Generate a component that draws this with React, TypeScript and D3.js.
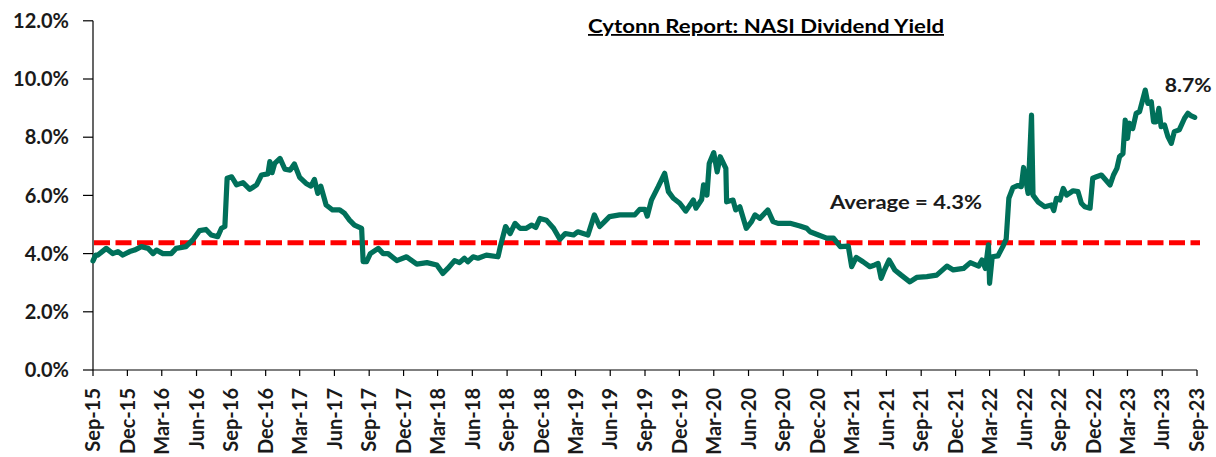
import React from "react";
import * as d3 from "d3";

const chartTitle = "Cytonn Report: NASI Dividend Yield";

const dates: string[] = [
  "2015-09-01","2015-09-08","2015-09-14","2015-10-06","2015-10-23","2015-11-06","2015-11-19","2015-12-07","2015-12-20",
  "2016-01-07","2016-01-25","2016-02-07","2016-02-16","2016-03-04","2016-03-26","2016-04-08","2016-05-04","2016-05-22",
  "2016-06-09","2016-06-26","2016-07-10","2016-07-27","2016-08-06","2016-08-15","2016-08-21","2016-09-02","2016-09-15",
  "2016-10-02","2016-10-20","2016-11-07","2016-11-20","2016-12-07","2016-12-12","2016-12-18","2016-12-25","2017-01-08",
  "2017-01-21","2017-02-04","2017-02-15","2017-03-01","2017-03-18","2017-03-31","2017-04-09","2017-04-18","2017-04-26",
  "2017-05-10","2017-05-27","2017-06-15","2017-06-28","2017-07-11","2017-07-24","2017-08-12","2017-08-16","2017-08-25",
  "2017-09-04","2017-09-25","2017-10-08","2017-10-21","2017-11-13","2017-12-09","2018-01-05","2018-02-01","2018-02-27",
  "2018-03-15","2018-03-28","2018-04-15","2018-04-28","2018-05-11","2018-05-20","2018-06-03","2018-06-16","2018-07-08",
  "2018-08-08","2018-08-14","2018-08-28","2018-09-09","2018-09-22","2018-10-05","2018-10-22","2018-11-05","2018-11-16",
  "2018-11-27","2018-12-14","2019-01-02","2019-01-19","2019-02-02","2019-02-24","2019-03-07","2019-04-03","2019-04-20",
  "2019-05-04","2019-05-17","2019-05-30","2019-06-26","2019-08-05","2019-08-18","2019-09-01","2019-09-07","2019-09-18",
  "2019-10-06","2019-10-23","2019-11-02","2019-11-15","2019-12-02","2019-12-18","2020-01-07","2020-01-14","2020-01-29",
  "2020-02-03","2020-02-12","2020-02-18","2020-03-01","2020-03-10","2020-03-18","2020-04-02","2020-04-04","2020-04-21",
  "2020-04-28","2020-05-09","2020-05-26","2020-06-09","2020-06-18","2020-07-01","2020-07-22","2020-08-05","2020-08-18",
  "2020-09-19","2020-10-15","2020-11-02","2020-11-11","2020-12-03","2020-12-25","2021-01-12","2021-01-30","2021-02-20",
  "2021-03-01","2021-03-13","2021-03-31","2021-04-18","2021-05-01","2021-05-10","2021-05-18","2021-05-27","2021-06-08",
  "2021-06-23","2021-07-10","2021-08-02","2021-08-20","2021-09-16","2021-10-12","2021-11-08","2021-11-25","2021-12-22",
  "2022-01-09","2022-01-31","2022-02-09","2022-02-18","2022-02-26","2022-03-01","2022-03-08","2022-03-23","2022-04-05",
  "2022-04-14","2022-04-21","2022-05-02","2022-05-15","2022-05-24","2022-05-30","2022-06-11","2022-06-20","2022-06-24",
  "2022-07-07","2022-07-25","2022-08-12","2022-08-18","2022-08-25","2022-09-03","2022-09-12","2022-09-21","2022-10-08",
  "2022-10-21","2022-10-30","2022-11-08","2022-11-22","2022-11-29","2022-12-09","2022-12-22","2023-01-14","2023-01-23",
  "2023-02-01","2023-02-08","2023-02-17","2023-02-23","2023-03-01","2023-03-06","2023-03-15","2023-03-24","2023-04-02",
  "2023-04-17","2023-04-24","2023-05-03","2023-05-09","2023-05-16","2023-05-23","2023-05-29","2023-06-07","2023-06-16",
  "2023-06-25","2023-07-03","2023-07-16","2023-07-30","2023-08-08","2023-08-17","2023-08-26"
];

const yieldValues: number[] = [
  3.75,3.95,3.95,4.18,4.0,4.07,3.95,4.07,4.12,
  4.24,4.18,4.0,4.12,4.0,4.0,4.18,4.24,4.47,
  4.79,4.83,4.64,4.58,4.87,4.93,6.59,6.64,6.36,
  6.44,6.21,6.36,6.70,6.74,7.16,6.78,7.10,7.27,
  6.90,6.87,7.08,6.62,6.41,6.32,6.55,6.07,6.32,
  5.67,5.50,5.50,5.38,5.15,4.98,4.87,3.72,3.72,
  4.0,4.18,4.0,4.0,3.76,3.89,3.64,3.69,3.61,
  3.32,3.49,3.76,3.69,3.84,3.72,3.89,3.84,3.95,
  3.89,4.24,4.93,4.69,5.04,4.87,4.87,4.98,4.90,
  5.21,5.15,4.87,4.49,4.69,4.64,4.75,4.64,5.33,
  4.93,5.10,5.27,5.33,5.33,5.52,5.52,5.29,5.84,
  6.30,6.76,6.13,5.90,5.73,5.46,5.84,5.56,5.86,
  6.36,6.01,7.10,7.47,6.81,7.33,6.93,5.78,5.84,
  5.50,5.61,4.87,5.10,5.33,5.21,5.50,5.10,5.04,
  5.04,4.95,4.87,4.75,4.64,4.53,4.53,4.24,4.26,
  3.55,3.87,3.72,3.55,3.61,3.66,3.15,3.44,3.78,
  3.44,3.26,3.03,3.18,3.21,3.26,3.57,3.44,3.49,
  3.69,3.57,3.78,3.49,4.30,2.98,3.89,3.92,4.24,
  4.50,5.90,6.27,6.34,6.30,6.96,6.07,8.76,6.01,
  5.78,5.61,5.67,5.48,5.90,5.84,6.24,6.01,6.16,
  6.13,5.73,5.61,5.56,6.59,6.64,6.70,6.36,6.70,
  6.93,7.33,7.44,8.59,7.96,8.48,8.30,8.82,8.88,
  9.62,9.16,9.22,8.53,8.53,8.99,8.36,8.42,8.02,
  7.79,8.19,8.25,8.65,8.82,8.73,8.68
];

const averageValue = [4.37];
const averageLabel = "Average = 4.3%";
const lastLabel = "8.7%";

const xTickLabels: string[] = [
  "Sep-15","Dec-15","Mar-16","Jun-16","Sep-16","Dec-16","Mar-17","Jun-17","Sep-17","Dec-17","Mar-18",
  "Jun-18","Sep-18","Dec-18","Mar-19","Jun-19","Sep-19","Dec-19","Mar-20","Jun-20","Sep-20","Dec-20",
  "Mar-21","Jun-21","Sep-21","Dec-21","Mar-22","Jun-22","Sep-22","Dec-22","Mar-23","Jun-23","Sep-23"
];

const yTickValues: number[] = [0, 2, 4, 6, 8, 10, 12];

const W = 1216;
const H = 457;
const LEFT = 93;
const RIGHT = 1197;
const TOP = 20.8;
const BOTTOM = 370;

const GREEN = "#00705A";
const RED = "#FF0000";
const FONT = "Lato, 'Liberation Sans', Arial, sans-serif";

export default function App() {
  const parseDate = d3.timeParse("%Y-%m-%d");
  const parseTick = d3.timeParse("%b-%y");
  const tickDates = xTickLabels.map((l) => parseTick(l) as Date);

  const x = d3
    .scaleTime()
    .domain([tickDates[0], tickDates[tickDates.length - 1]])
    .range([LEFT, RIGHT]);
  const y = d3.scaleLinear().domain([0, 12]).range([BOTTOM, TOP]);

  const points = dates.map((d, i) => ({ date: parseDate(d) as Date, value: yieldValues[i] }));
  const line = d3
    .line<{ date: Date; value: number }>()
    .x((p) => x(p.date))
    .y((p) => y(p.value));

  const avgY = y(averageValue[0]);
  const lastPoint = points[points.length - 1];

  return (
    <>
      <style>{`body{margin:0}`}</style>
      <svg width={W} height={H} style={{ display: "block", background: "#fff" }} fontFamily={FONT}>
        <rect x={0} y={0} width={W} height={H} fill="#fff" />
        {/* title */}
        <text
          x={766}
          y={33}
          textAnchor="middle"
          fontSize={18}
          fontWeight="bold"
          fill="#000"
          textDecoration="underline"
          textLength={356}
          lengthAdjust="spacingAndGlyphs"
        >
          {chartTitle}
        </text>

        {/* y axis */}
        <line x1={LEFT} x2={LEFT} y1={TOP} y2={BOTTOM} stroke="#000" strokeWidth={1.2} />
        {yTickValues.map((v) => (
          <g key={v}>
            <line x1={LEFT - 10} x2={LEFT} y1={y(v)} y2={y(v)} stroke="#000" strokeWidth={1.2} />
            <text
              x={69}
              y={y(v)}
              dy="0.36em"
              textAnchor="end"
              fontSize={20}
              fontWeight="bold"
              fill="#1a1a1a"
            >
              {d3.format(".1f")(v) + "%"}
            </text>
          </g>
        ))}

        {/* x axis */}
        <line x1={LEFT} x2={RIGHT} y1={BOTTOM} y2={BOTTOM} stroke="#000" strokeWidth={1.2} />
        {tickDates.map((d, i) => (
          <g key={xTickLabels[i]}>
            <line x1={x(d)} x2={x(d)} y1={BOTTOM} y2={BOTTOM + 6} stroke="#000" strokeWidth={1.2} />
            <text
              transform={`translate(${x(d)},${BOTTOM + 18}) rotate(-90)`}
              dy="0.36em"
              textAnchor="end"
              fontSize={20}
              fontWeight="bold"
              fill="#1a1a1a"
            >
              {xTickLabels[i]}
            </text>
          </g>
        ))}

        {/* average dashed line */}
        <line
          x1={LEFT + 1}
          x2={RIGHT + 3}
          y1={avgY}
          y2={avgY}
          stroke={RED}
          strokeWidth={5}
          strokeDasharray="16 5.5"
        />

        {/* series line */}
        <path
          d={line(points) || ""}
          fill="none"
          stroke={GREEN}
          strokeWidth={5.2}
          strokeLinejoin="round"
          strokeLinecap="round"
        />

        {/* annotations */}
        <text
          x={906}
          y={202}
          dy="0.36em"
          textAnchor="middle"
          fontSize={19}
          fontWeight="bold"
          fill="#1a1a1a"
          textLength={152}
          lengthAdjust="spacingAndGlyphs"
        >
          {averageLabel}
        </text>
        <text
          x={x(lastPoint.date) + 17}
          y={85}
          dy="0.36em"
          textAnchor="end"
          fontSize={19}
          fontWeight="bold"
          fill="#1a1a1a"
          textLength={47}
          lengthAdjust="spacingAndGlyphs"
        >
          {lastLabel}
        </text>
      </svg>
    </>
  );
}
